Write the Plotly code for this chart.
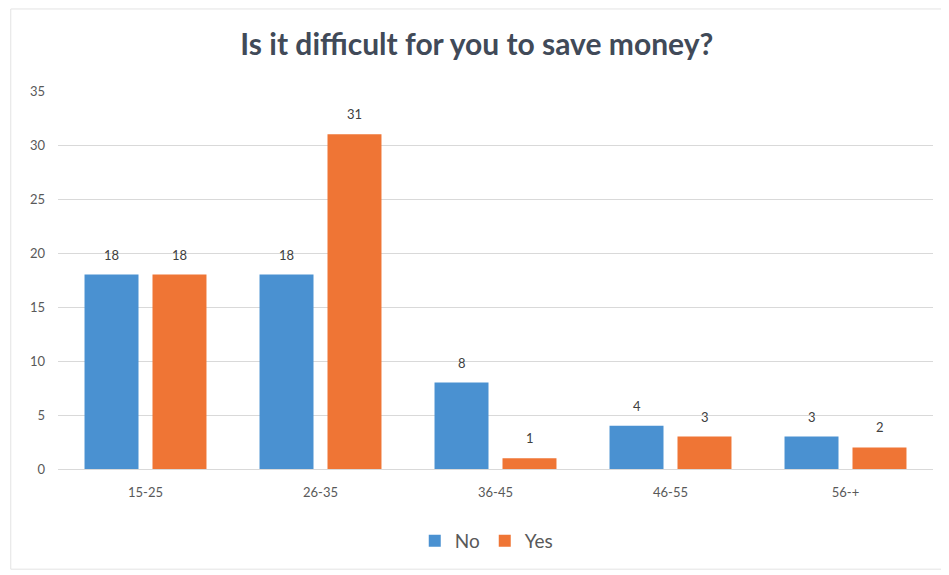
import plotly.graph_objects as go

categories = ["15-25", "26-35", "36-45", "46-55", "56-+"]
no_values = [18, 18, 8, 4, 3]
yes_values = [18, 31, 1, 3, 2]
y_ticks = [0, 5, 10, 15, 20, 25, 30, 35]

BLUE = "#4A91D1"
ORANGE = "#EF7535"
TEXT = "#595959"
FONT = "Lato, Open Sans, sans-serif"

fig = go.Figure()
fig.add_trace(go.Bar(name="No", x=categories, y=no_values, marker=dict(color=BLUE, line=dict(width=0))))
fig.add_trace(go.Bar(name="Yes", x=categories, y=yes_values, marker=dict(color=ORANGE, line=dict(width=0))))

annotations = []
for vals, shift in ((no_values, -34), (yes_values, 34)):
    for c, v in zip(categories, vals):
        annotations.append(dict(x=c, y=v, text=str(v), showarrow=False, xshift=shift, yshift=20,
                                font=dict(family=FONT, size=13, color="#404040")))

fig.update_layout(
    width=949, height=575,
    paper_bgcolor="white", plot_bgcolor="white",
    margin=dict(l=50, r=24, t=83, b=114),
    barmode="group", bargap=0.223, bargroupgap=0.206,
    title=dict(text="<b>Is it difficult for you to save money?</b>", x=0.494, xanchor="center", xref="container",
               y=0.936, yanchor="middle",
               font=dict(family=FONT, size=30, color="#414A58")),
    xaxis=dict(showgrid=False, showline=False, ticks="", ticklabelstandoff=14,
               tickfont=dict(family=FONT, size=13, color=TEXT)),
    yaxis=dict(range=[0, 35], tickvals=y_ticks, showgrid=True, gridcolor="#D9D9D9", gridwidth=1,
               zeroline=True, zerolinecolor="#D9D9D9", zerolinewidth=1, showline=False, ticks="",
               ticklabelstandoff=12,
               tickfont=dict(family=FONT, size=13, color=TEXT)),
    legend=dict(orientation="h", x=0.49, xanchor="center", y=-0.19, yanchor="middle",
                font=dict(family=FONT, size=19, color=TEXT),
                itemwidth=30, tracegroupgap=0),
    annotations=annotations,
    shapes=[dict(type="rect", xref="paper", yref="paper", x0=-0.054, x1=1.014, y0=-0.265, y1=1.217,
                 line=dict(color="#E3E3E3", width=1))],
    showlegend=True,
)

fig.write_html("out.html")
